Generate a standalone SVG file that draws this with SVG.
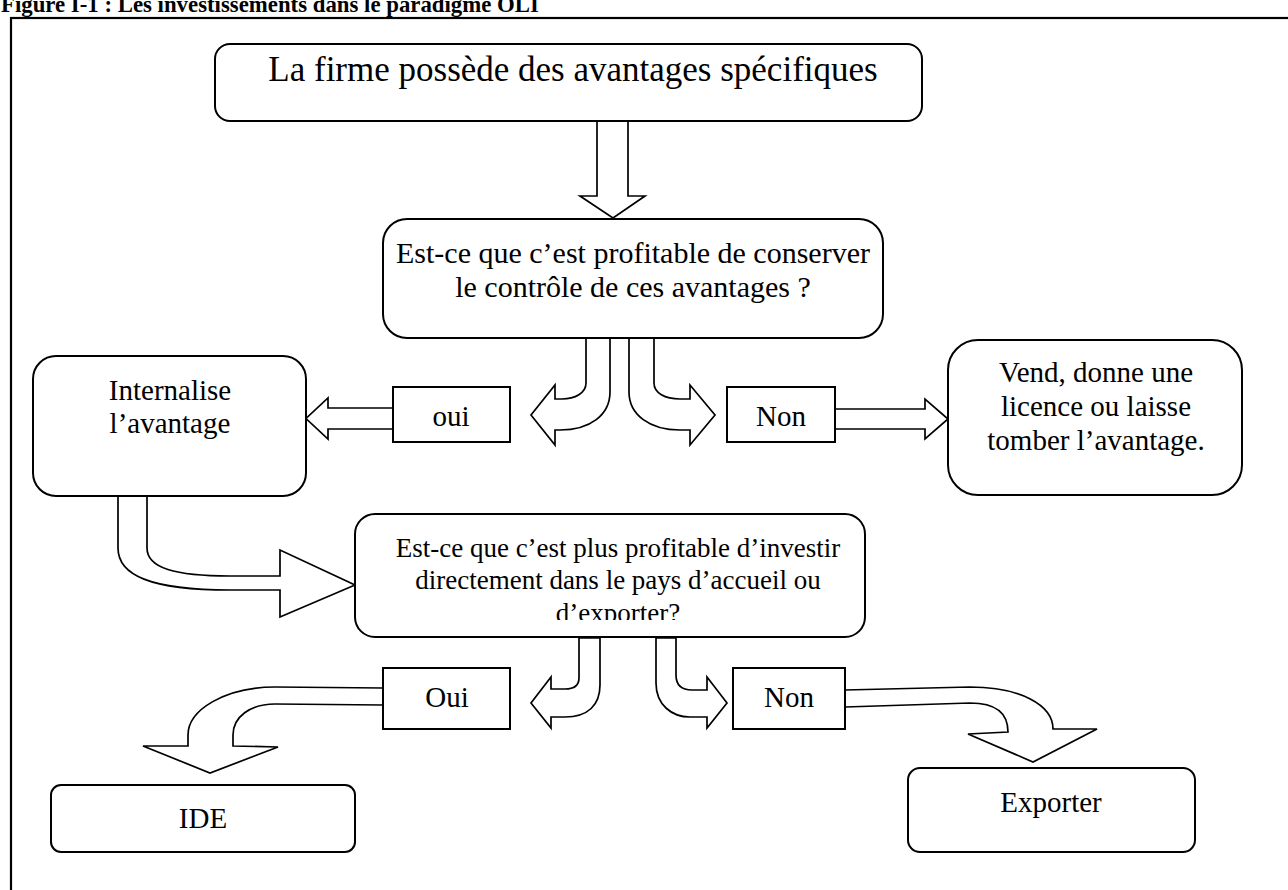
<svg xmlns="http://www.w3.org/2000/svg" width="1288" height="890" viewBox="0 0 1288 890">
<style>
  .box{fill:#fff;stroke:#000;stroke-width:2}
  .arr{fill:#fff;stroke:#000;stroke-width:1.7;stroke-linejoin:miter}
  .t{font-family:"Liberation Serif","Times New Roman",serif;font-size:29px;fill:#000;text-anchor:middle}
  .title{font-family:"Liberation Serif","Times New Roman",serif;font-size:22.8px;font-weight:bold;fill:#000}
</style>
<defs>
  <clipPath id="clip3"><rect x="355" y="514" width="510" height="106"/></clipPath>
</defs>
<rect width="1288" height="890" fill="#fff"/>
<text class="title" x="1" y="12">Figure I-1 : Les investissements dans le paradigme OLI</text>
<rect x="11" y="18" width="1300" height="900" fill="none" stroke="#000" stroke-width="2.2"/>

<g id="connectors">
  <path class="arr" d="M597,121 L597,196 L580,196 L613,218 L645,196 L628,196 L628,121 Z"/>
  <path class="arr" d="M586,337 L586,383 C586,393 575,399 562,399 L555,399 L555,385 L531,415 L555,445 L555,430 L560,430 C590,430 610,415 610,392 L610,337 Z"/>
  <path class="arr" d="M629,338 L629,392 C629,415 650,430 680,430 L690,430 L690,445 L715,415 L690,385 L690,399 L680,399 C665,399 654,393 654,383 L654,338 Z"/>
  <path class="arr" d="M393,408 L328,408 L328,398 L306,418.5 L328,439 L328,429 L393,429"/>
  <path class="arr" d="M835,409 L925,409 L925,399 L948,419 L925,439 L925,429 L835,429"/>
  <path class="arr" d="M118,494 L118,548 C118,575 150,590 230,590 L280,590 L280,617 L355,585 L280,550 L280,576 L230,576 C175,576 147,568 147,548 L147,494 Z"/>
  <path class="arr" d="M579,638 L579,678 C579,686 574,689 565,689 L551,689 L551,677 L531,703 L551,728 L551,717 L565,717 C588,717 600,705 600,685 L600,638 Z"/>
  <path class="arr" d="M656,638 L656,683 C656,705 672,717 690,717 L707,717 L707,728 L727,703 L707,677 L707,690 L692,690 C682,690 676,685 676,675 L676,638 Z"/>
  <path class="arr" d="M383,688 L275,687 C225,687 188,710 188,735 L188,746 L143,746 L210,773 L278,747 L233,746 L233,735 C233,717 250,704 275,704 L383,705"/>
  <path class="arr" d="M845,690 L970,687 C1020,687 1053,705 1053,729 L1097,729 L1033,762 L968,734 L1008,732 C1008,712 995,703 970,703 L845,707"/>
</g>

<g id="n1">
  <rect class="box" x="215" y="44" width="707" height="77" rx="15"/>
  <text class="t" x="573" y="81" style="font-size:35px">La firme possède des avantages spécifiques</text>
</g>
<g id="n2">
  <rect class="box" x="383" y="219" width="500" height="119" rx="24"/>
  <text class="t" x="633" y="263" style="font-size:30px">Est-ce que c’est profitable de conserver</text>
  <text class="t" x="633" y="297" style="font-size:30px">le contrôle de ces avantages ?</text>
</g>
<g id="n3">
  <rect class="box" x="33" y="356" width="273" height="140" rx="23"/>
  <text class="t" x="170" y="400">Internalise</text>
  <text class="t" x="170" y="433">l’avantage</text>
</g>
<g id="n4">
  <rect class="box" x="393" y="387" width="117" height="55"/>
  <text class="t" x="451" y="426">oui</text>
</g>
<g id="n5">
  <rect class="box" x="727" y="387" width="108" height="55"/>
  <text class="t" x="781" y="426">Non</text>
</g>
<g id="n6">
  <rect class="box" x="948" y="340" width="294" height="155" rx="30"/>
  <text class="t" x="1096" y="382">Vend, donne une</text>
  <text class="t" x="1096" y="416">licence ou laisse</text>
  <text class="t" x="1096" y="450">tomber l’avantage.</text>
</g>
<g id="n7">
  <rect class="box" x="355" y="514" width="510" height="123" rx="20"/>
  <text class="t" x="618" y="557" style="font-size:27px">Est-ce que c’est plus profitable d’investir</text>
  <text class="t" x="618" y="589" style="font-size:27px">directement dans le pays d’accueil ou</text>
  <text class="t" x="618" y="622" style="font-size:27px" clip-path="url(#clip3)">d’exporter?</text>
</g>
<g id="n8">
  <rect class="box" x="383" y="668" width="127" height="61"/>
  <text class="t" x="447" y="707">Oui</text>
</g>
<g id="n9">
  <rect class="box" x="733" y="668" width="112" height="61"/>
  <text class="t" x="789" y="707">Non</text>
</g>
<g id="n10">
  <rect class="box" x="51" y="785" width="304" height="67" rx="10"/>
  <text class="t" x="203" y="828">IDE</text>
</g>
<g id="n11">
  <rect class="box" x="908" y="768" width="287" height="84" rx="12"/>
  <text class="t" x="1051" y="812">Exporter</text>
</g>
</svg>
